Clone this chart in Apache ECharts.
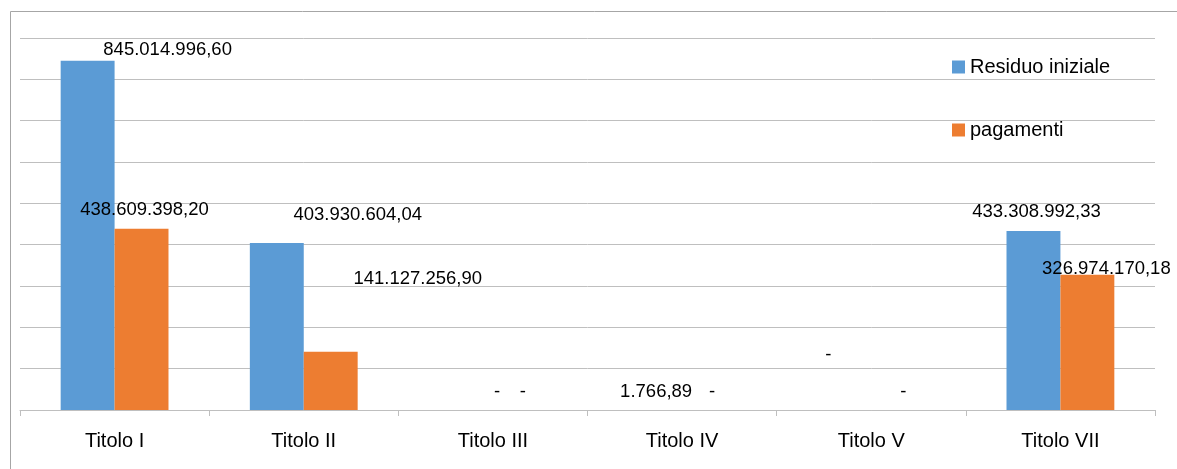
<!DOCTYPE html>
<html>
<head>
<meta charset="utf-8">
<script src="https://cdn.jsdelivr.net/npm/echarts@6/dist/echarts.min.js"></script>
<style>
html,body{margin:0;padding:0;background:#fff;}
#chart{width:1177px;height:469px;}
</style>
</head>
<body>
<div id="chart"></div>
<script>
const categories = ['Titolo I', 'Titolo II', 'Titolo III', 'Titolo IV', 'Titolo V', 'Titolo VII'];
const residuoIniziale = [845014996.60, 403930604.04, 0, 1766.89, 0, 433308992.33];
const pagamenti = [438609398.20, 141127256.90, 0, 0, 0, 326974170.18];
const seriesNames = ['Residuo iniziale', 'pagamenti'];

function fmtIt(v) {
  if (!v) return '-';
  const fixed = v.toFixed(2);
  const parts = fixed.split('.');
  const intPart = parts[0].replace(/\B(?=(\d{3})+(?!\d))/g, '.');
  return intPart + ',' + parts[1];
}

// label placement tweaks (Excel manual label positions)
const blueLabelShift = [[80,4],[81,-14],[31,-4],[1,-4],[-16,-41],[3,-4]];
const orangeLabelShift = [[3,-4],[87,-58],[3,-4],[3,-4],[5,-4],[19,9]];

function buildData(values, shifts) {
  return values.map((v, i) => ({
    value: v,
    label: { offset: shifts[i] }
  }));
}

const labelStyle = {
  show: true,
  position: 'top',
  distance: 5,
  color: '#000',
  fontFamily: 'Liberation Sans',
  fontSize: 18.5,
  formatter: p => fmtIt(p.value)
};

const chart = echarts.init(document.getElementById('chart'), null, {renderer: 'canvas'});
chart.setOption({
  animation: false,
  backgroundColor: '#fff',
  graphic: [{
    type: 'rect',
    left: 8, top: 9,
    shape: { width: 1190, height: 480 },
    style: { fill: 'none', stroke: '#a6a6a6', lineWidth: 1 },
    silent: true
  }],
  legend: {
    orient: 'vertical',
    left: 952,
    top: 57,
    padding: 0,
    itemWidth: 13,
    itemHeight: 13,
    itemGap: 43,
    icon: 'rect',
    textStyle: { fontFamily: 'Liberation Sans', fontSize: 20, color: '#000' },
    data: seriesNames
  },
  grid: { left: 20, right: 22, top: 38, bottom: 59, containLabel: false },
  xAxis: {
    type: 'category',
    data: categories,
    axisLine: { lineStyle: { color: '#bfbfbf', width: 1 } },
    axisTick: { show: true, length: 6, lineStyle: { color: '#bfbfbf' } },
    axisLabel: { color: '#000', fontFamily: 'Liberation Sans', fontSize: 20, margin: 21 }
  },
  yAxis: {
    type: 'value',
    min: 0,
    max: 900000000,
    interval: 100000000,
    axisLabel: { show: false },
    axisLine: { show: false },
    axisTick: { show: false },
    splitLine: { lineStyle: { color: '#bfbfbf', width: 1 } }
  },
  series: [
    {
      name: seriesNames[0],
      type: 'bar',
      barWidth: '28.5%',
      barGap: '0%',
      itemStyle: { color: '#5b9bd5' },
      label: labelStyle,
      data: buildData(residuoIniziale, blueLabelShift)
    },
    {
      name: seriesNames[1],
      type: 'bar',
      barWidth: '28.5%',
      barGap: '0%',
      itemStyle: { color: '#ed7d31' },
      label: labelStyle,
      data: buildData(pagamenti, orangeLabelShift)
    }
  ]
});
</script>
</body>
</html>
